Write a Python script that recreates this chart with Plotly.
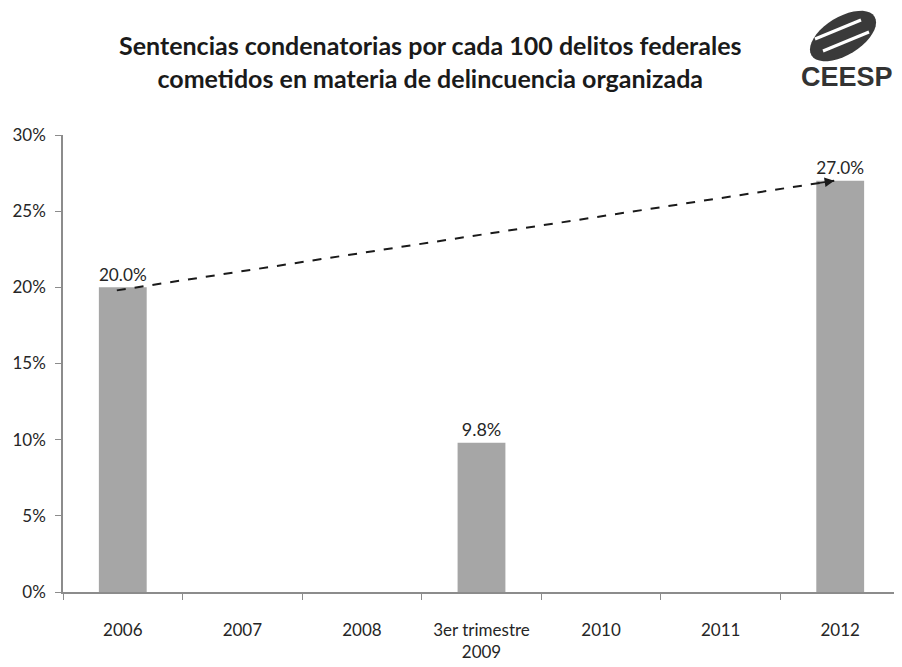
import math
import plotly.graph_objects as go

# data
categories = ["2006", "2007", "2008", "3er trimestre<br>2009", "2010", "2011", "2012"]
values = [0.200, None, None, 0.098, None, None, 0.270]
labels = ["20.0%", "", "", "9.8%", "", "", "27.0%"]

# trend arrow: start / end (category index, value)
trend_x = [-0.05, 5.95]
trend_y = [0.198, 0.270]

font_family = "Lato, 'Open Sans', sans-serif"
txt_color = "#262626"

# page is drawn with an 8px body offset, so size the figure to fit
W, H = 894, 659
ML, MR, MT, MB = 55, 2, 127, 75
PW, PH = W - ML - MR, H - MT - MB


def px_to_paper(px, py):
    """page pixel -> paper coords (accounts for 8px body offset)."""
    return (px - 8 - ML) / PW, (H - MB - (py - 8)) / PH


def ellipse_path(cx, cy, rx, ry, rot, n=40):
    pts = []
    for i in range(n):
        t = 2 * math.pi * i / n
        x = rx * math.cos(t)
        y = ry * math.sin(t)
        xr = cx + x * math.cos(rot) - y * math.sin(rot)
        yr = cy + x * math.sin(rot) + y * math.cos(rot)
        pts.append(px_to_paper(xr, yr))
    return "M " + " L ".join(f"{a:.4f},{b:.4f}" for a, b in pts) + " Z"


fig = go.Figure()

fig.add_trace(go.Bar(
    x=categories, y=values,
    marker=dict(color="#a6a6a6", line=dict(width=0)),
    width=0.4,
    text=labels, textposition="outside",
    textfont=dict(size=18, color=txt_color, family=font_family),
    cliponaxis=False,
    showlegend=False,
))

# dashed trend line with arrow head
fig.add_shape(type="line", xref="x", yref="y",
              x0=trend_x[0], y0=trend_y[0], x1=trend_x[1], y1=trend_y[1],
              line=dict(color="#1a1a1a", width=2, dash="dash"))
fig.add_annotation(x=trend_x[1], y=trend_y[1], xref="x", yref="y",
                   ax=trend_x[1] - 0.15, ay=trend_y[1] - 0.15 * (trend_y[1] - trend_y[0]) / (trend_x[1] - trend_x[0]),
                   axref="x", ayref="y", text="", showarrow=True,
                   arrowhead=2, arrowsize=1.2, arrowwidth=1.6, arrowcolor="#1a1a1a")

# title
tx, ty = px_to_paper(430, 61)
fig.add_annotation(
    text="<b>Sentencias condenatorias por cada 100 delitos federales<br>cometidos en materia de delincuencia organizada</b>",
    xref="paper", yref="paper", x=tx, y=ty, xanchor="center", yanchor="middle",
    showarrow=False, font=dict(size=25, color="#1a1a1a", family=font_family), align="center")

# logo (CEESP)
fig.add_shape(type="path", xref="paper", yref="paper",
              path=ellipse_path(843, 36, 37, 19, -0.55),
              fillcolor="#3a3a3a", line=dict(width=0))
for dx, dy in [(-4, -6), (4, 6)]:
    x0, y0 = px_to_paper(819 + dx, 45 + dy)
    x1, y1 = px_to_paper(865 + dx, 26 + dy)
    fig.add_shape(type="line", xref="paper", yref="paper", x0=x0, y0=y0, x1=x1, y1=y1,
                  line=dict(color="white", width=3))
lx, ly = px_to_paper(895, 77)
fig.add_annotation(text="<b>CEESP</b>", xref="paper", yref="paper", x=lx, y=ly,
                   xanchor="right", yanchor="middle", showarrow=False,
                   font=dict(size=27, color="#333333",
                             family="'Liberation Sans Narrow', 'Liberation Sans', sans-serif"))

fig.update_layout(
    width=W, height=H,
    margin=dict(l=ML, r=MR, t=MT, b=MB),
    paper_bgcolor="white", plot_bgcolor="white",
    font=dict(family=font_family, color=txt_color),
    bargap=0.6,
    xaxis=dict(
        type="category", showgrid=False, showline=True, linecolor="#8c8c8c", linewidth=1.5,
        ticks="outside", ticklen=6, tickcolor="#8c8c8c", tickson="boundaries",
        tickfont=dict(size=17, color=txt_color), ticklabelstandoff=22,
    ),
    yaxis=dict(
        range=[0, 0.30], dtick=0.05, tickformat=".0%", showgrid=False, zeroline=False,
        showline=True, linecolor="#8c8c8c", linewidth=1.5,
        ticks="outside", ticklen=6, tickcolor="#8c8c8c",
        tickfont=dict(size=17, color=txt_color), ticklabelstandoff=6,
    ),
)

fig.write_html("out.html")
